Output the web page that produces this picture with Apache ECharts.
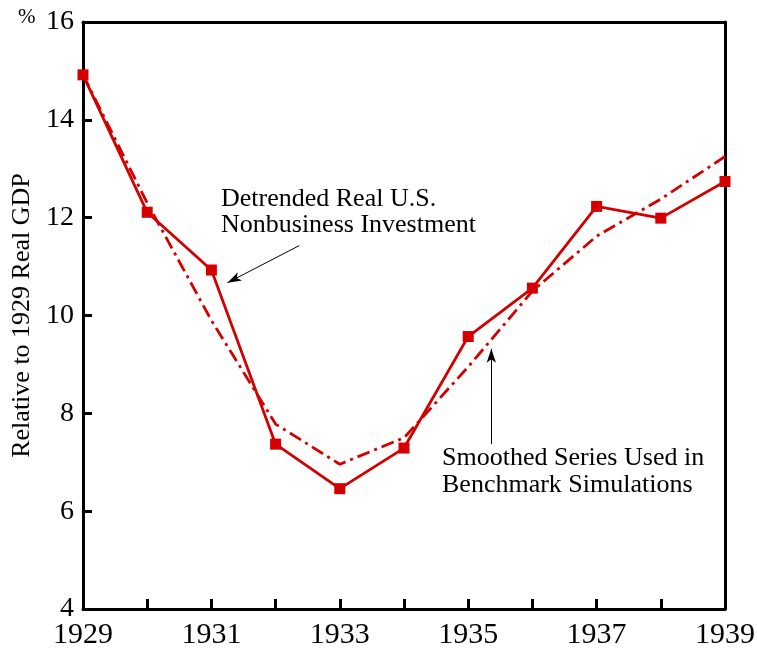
<!DOCTYPE html>
<html>
<head>
<meta charset="utf-8">
<script src="https://cdn.jsdelivr.net/npm/echarts@6/dist/echarts.min.js"></script>
<style>
  html, body { margin: 0; padding: 0; background: #fff; }
  #chart { width: 757px; height: 653px; }
</style>
</head>
<body>
<div id="chart"></div>
<script>
const years = [1929, 1930, 1931, 1932, 1933, 1934, 1935, 1936, 1937, 1938, 1939];
const investment = [14.92, 12.11, 10.93, 7.37, 6.46, 7.29, 9.57, 10.56, 12.23, 11.99, 12.74];
const smoothed = [14.92, 12.3, 9.9, 7.78, 6.96, 7.5, 8.95, 10.5, 11.62, 12.38, 13.25];
const yTicks = [4, 6, 8, 10, 12, 14, 16];
const xLabelYears = [1929, 1931, 1933, 1935, 1937, 1939];

const red = '#d40000';
const font = 'Liberation Serif';

const chart = echarts.init(document.getElementById('chart'));

const option = {
  backgroundColor: '#fff',
  animation: false,
  grid: { left: 83, right: 32, top: 22, bottom: 44, outerBoundsMode: 'none' },
  xAxis: [
    {
      type: 'value',
      min: 1929,
      max: 1939,
      interval: 1,
      axisLine: { show: true, lineStyle: { color: '#000', width: 3 } },
      axisTick: { show: true, inside: true, length: 10, lineStyle: { color: '#000', width: 3 } },
      axisLabel: {
        margin: 11,
        color: '#000',
        fontFamily: font,
        fontSize: 30,
        formatter: v => (xLabelYears.includes(v) ? String(v) : '')
      },
      splitLine: { show: false }
    },
    {
      type: 'value',
      position: 'top',
      min: 1929,
      max: 1939,
      axisLine: { show: true, lineStyle: { color: '#000', width: 3 } },
      axisTick: { show: false },
      axisLabel: { show: false },
      splitLine: { show: false }
    }
  ],
  yAxis: [
    {
      type: 'value',
      min: yTicks[0],
      max: yTicks[yTicks.length - 1],
      interval: 2,
      name: 'Relative to 1929 Real GDP',
      nameLocation: 'middle',
      nameGap: 46,
      nameTextStyle: { color: '#000', fontFamily: font, fontSize: 26 },
      axisLine: { show: true, lineStyle: { color: '#000', width: 3 } },
      axisTick: { show: true, inside: true, length: 9, lineStyle: { color: '#000', width: 3 } },
      axisLabel: { margin: 9, color: '#000', fontFamily: font, fontSize: 28 },
      splitLine: { show: false }
    },
    {
      type: 'value',
      position: 'right',
      min: yTicks[0],
      max: yTicks[yTicks.length - 1],
      axisLine: { show: true, lineStyle: { color: '#000', width: 3 } },
      axisTick: { show: false },
      axisLabel: { show: false },
      splitLine: { show: false }
    }
  ],
  graphic: [
    { type: 'text', left: 18, top: 7, style: { text: '%', fill: '#000', font: '21px "Liberation Serif"' } },
    {
      type: 'text', left: 221, top: 186,
      style: { text: 'Detrended Real U.S.\nNonbusiness Investment', fill: '#000', font: '26px "Liberation Serif"', lineHeight: 26 }
    },
    {
      type: 'text', left: 442, top: 445,
      style: { text: 'Smoothed Series Used in\nBenchmark Simulations', fill: '#000', font: '26px "Liberation Serif"', lineHeight: 27 }
    }
  ],
  series: [
    {
      name: 'Smoothed',
      type: 'line',
      data: years.map((y, i) => [y, smoothed[i]]),
      symbol: 'none',
      lineStyle: { color: red, width: 2.8, type: [13, 5, 3, 5] },
      z: 2
    },
    {
      name: 'Investment',
      type: 'line',
      data: years.map((y, i) => [y, investment[i]]),
      symbol: 'rect',
      symbolSize: 11,
      itemStyle: { color: red },
      lineStyle: { color: red, width: 2.8 },
      z: 3,
      markLine: {
        silent: true,
        symbol: ['none', 'arrow'],
        symbolSize: [7, 14],
        label: { show: false },
        lineStyle: { color: '#000', width: 1, type: 'solid' },
        data: [
          [{ coord: [1932.37, 11.43] }, { coord: [1931.25, 10.67] }],
          [{ coord: [1935.36, 7.37] }, { coord: [1935.36, 9.32] }]
        ]
      }
    }
  ]
};

chart.setOption(option);
</script>
</body>
</html>
